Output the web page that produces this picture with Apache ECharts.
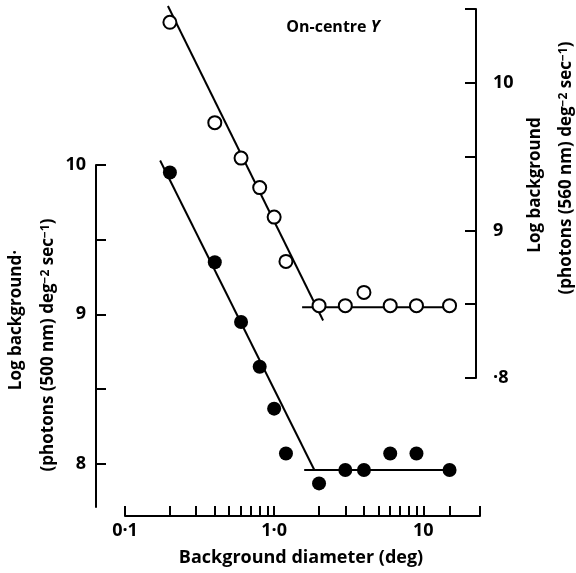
<!DOCTYPE html>
<html>
<head>
<meta charset="utf-8">
<script src="https://cdn.jsdelivr.net/npm/echarts@6/dist/echarts.min.js"></script>
<style>html,body{margin:0;padding:0;background:#fff}#c{width:576px;height:573px}</style>
</head>
<body>
<div id="c"></div>
<script>
// Background diameter (deg)
const diamFilled = [0.2, 0.4, 0.6, 0.8, 1.0, 1.2, 2, 3, 4, 6, 9, 15];
const logBgFilled500 = [9.95, 9.35, 8.95, 8.65, 8.37, 8.07, 7.87, 7.96, 7.96, 8.07, 8.07, 7.96];
const diamOpen = [0.2, 0.4, 0.6, 0.8, 1.0, 1.2, 2, 3, 4, 6, 9, 15];
const logBgOpen560 = [10.41, 9.73, 9.49, 9.29, 9.09, 8.79, 8.49, 8.49, 8.58, 8.49, 8.49, 8.49];
// fitted lines (x, y)
const fitFilledSteep = [[0.172, 10.03], [1.86, 7.96]];
const fitFilledFlat = [[1.59, 7.96], [15, 7.96]];
const fitOpenSteep = [[0.194, 10.52], [2.13, 8.39]];
const fitOpenFlat = [[1.54, 8.48], [15, 8.48]];
// ticks
const xTickValues = [0.1,0.2,0.3,0.4,0.5,0.6,0.7,0.8,0.9,1,2,3,4,5,6,7,8,9,10,15,24];
const xLabelValues = [0.1, 1, 10];
const xLabelText = ['0·1', '1·0', '10'];
const leftTickValues = [8, 8.5, 9, 9.5, 10];
const leftLabelValues = [8, 9, 10];
const rightTickValues = [8, 8.5, 9, 9.5, 10, 10.5];
const rightLabelValues = [8, 9, 10];
const rightLabelText = ['·8', '9', '10'];

const FONT = '"Open Sans", Lato, sans-serif';
const chart = echarts.init(document.getElementById('c'));
const zip = (a, b) => a.map((v, i) => [v, b[i]]);
const black = '#000';
const lineSeries = (data, yi) => ({
  type: 'line', data, xAxisIndex: 0, yAxisIndex: yi, showSymbol: false, symbol: 'none',
  lineStyle: {color: black, width: 2}, silent: true, z: 2, clip: false, animation: false
});
const axisBase = {
  axisLine: {show: true, lineStyle: {color: black, width: 2}},
  splitLine: {show: false}
};
chart.setOption({
  animation: false,
  backgroundColor: '#fff',
  grid: [
    {left: 125, right: 96, top: 0, bottom: 57},
    {left: 96, width: 20, top: 165, bottom: 66},
    {left: 476, right: 90, top: 9, bottom: 195}
  ],
  xAxis: [
    Object.assign({}, axisBase, {
      type: 'log', logBase: 10, min: 0.1, max: 24, gridIndex: 0,
      axisTick: {show: true, inside: true, length: 10, lineStyle: {color: black, width: 2}, customValues: xTickValues},
      axisLabel: {customValues: xLabelValues, margin: 6, color: black, fontFamily: FONT, fontWeight: 'bold', fontSize: 18,
        formatter: v => { const i = xLabelValues.findIndex(t => Math.abs(t - v) < 1e-6 * t); return i >= 0 ? xLabelText[i] : ''; }},
      minorTick: {show: false}
    }),
    {type: 'value', gridIndex: 1, show: false},
    {type: 'value', gridIndex: 2, show: false}
  ],
  yAxis: [
    {type: 'value', gridIndex: 0, min: 7.652, max: 11.104, show: false},
    {type: 'value', gridIndex: 0, min: 7.065, max: 10.561, show: false},
    Object.assign({}, axisBase, {
      type: 'value', gridIndex: 1, position: 'left', min: 7.71, max: 10,
      axisTick: {show: true, inside: true, length: 10, lineStyle: {color: black, width: 2}, customValues: leftTickValues},
      axisLabel: {customValues: leftLabelValues, margin: 10, color: black, fontFamily: FONT, fontWeight: 'bold', fontSize: 18}
    }),
    Object.assign({}, axisBase, {
      type: 'value', gridIndex: 2, position: 'right', min: 8, max: 10.5,
      axisTick: {show: true, inside: true, length: 11, lineStyle: {color: black, width: 2}, customValues: rightTickValues},
      axisLabel: {customValues: rightLabelValues, margin: 7, color: black, fontFamily: FONT, fontWeight: 'bold', fontSize: 18,
        formatter: v => { const i = rightLabelValues.indexOf(Math.round(v)); return i >= 0 ? rightLabelText[i] : ''; }}
    })
  ],
  series: [
    lineSeries(fitFilledSteep, 0),
    lineSeries(fitFilledFlat, 0),
    lineSeries(fitOpenSteep, 1),
    lineSeries(fitOpenFlat, 1),
    {type: 'scatter', xAxisIndex: 0, yAxisIndex: 0, data: zip(diamFilled, logBgFilled500),
      symbol: 'circle', symbolSize: 14, itemStyle: {color: black, opacity: 1}, z: 5},
    {type: 'scatter', xAxisIndex: 0, yAxisIndex: 1, data: zip(diamOpen, logBgOpen560),
      symbol: 'circle', symbolSize: 13, itemStyle: {color: '#fff', borderColor: black, borderWidth: 2, opacity: 1}, z: 5}
  ],
  graphic: [
    {type: 'text', x: 333, y: 27, z: 10, style: {
      text: 'On-centre {i|Y}', font: 'bold 16px ' + FONT, fill: black,
      align: 'center', verticalAlign: 'middle', textAlign: 'center', textVerticalAlign: 'middle',
      rich: {i: {fontStyle: 'italic', fontWeight: 'bold', fontSize: 16, fontFamily: FONT, fill: black}}}},
    {type: 'text', x: 301, y: 558, z: 10, style: {
      text: 'Background diameter (deg)', font: 'bold 18px ' + FONT, fill: black,
      align: 'center', verticalAlign: 'middle', textAlign: 'center', textVerticalAlign: 'middle'}},
    {type: 'text', x: 16, y: 320, rotation: Math.PI / 2, z: 10, style: {
      text: 'Log background·', font: 'bold 17px ' + FONT, fill: black,
      align: 'center', verticalAlign: 'middle', textAlign: 'center', textVerticalAlign: 'middle'}},
    {type: 'text', x: 48, y: 345, rotation: Math.PI / 2, z: 10, style: {
      text: '(photons (500 nm) deg{s|−2} sec{s|−1})', font: 'bold 17px ' + FONT, fill: black,
      align: 'center', verticalAlign: 'middle', textAlign: 'center', textVerticalAlign: 'middle',
      rich: {s: {fontSize: 12, fontWeight: 'bold', fontFamily: FONT, verticalAlign: 'top', fill: black}}}},
    {type: 'text', x: 535, y: 185, rotation: Math.PI / 2, z: 10, style: {
      text: 'Log background', font: 'bold 17px ' + FONT, fill: black,
      align: 'center', verticalAlign: 'middle', textAlign: 'center', textVerticalAlign: 'middle'}},
    {type: 'text', x: 566, y: 168, rotation: Math.PI / 2, z: 10, style: {
      text: '(photons (560 nm) deg{s|−2} sec{s|−1})', font: 'bold 17px ' + FONT, fill: black,
      align: 'center', verticalAlign: 'middle', textAlign: 'center', textVerticalAlign: 'middle',
      rich: {s: {fontSize: 12, fontWeight: 'bold', fontFamily: FONT, verticalAlign: 'top', fill: black}}}}
  ]
});
</script>
</body>
</html>
